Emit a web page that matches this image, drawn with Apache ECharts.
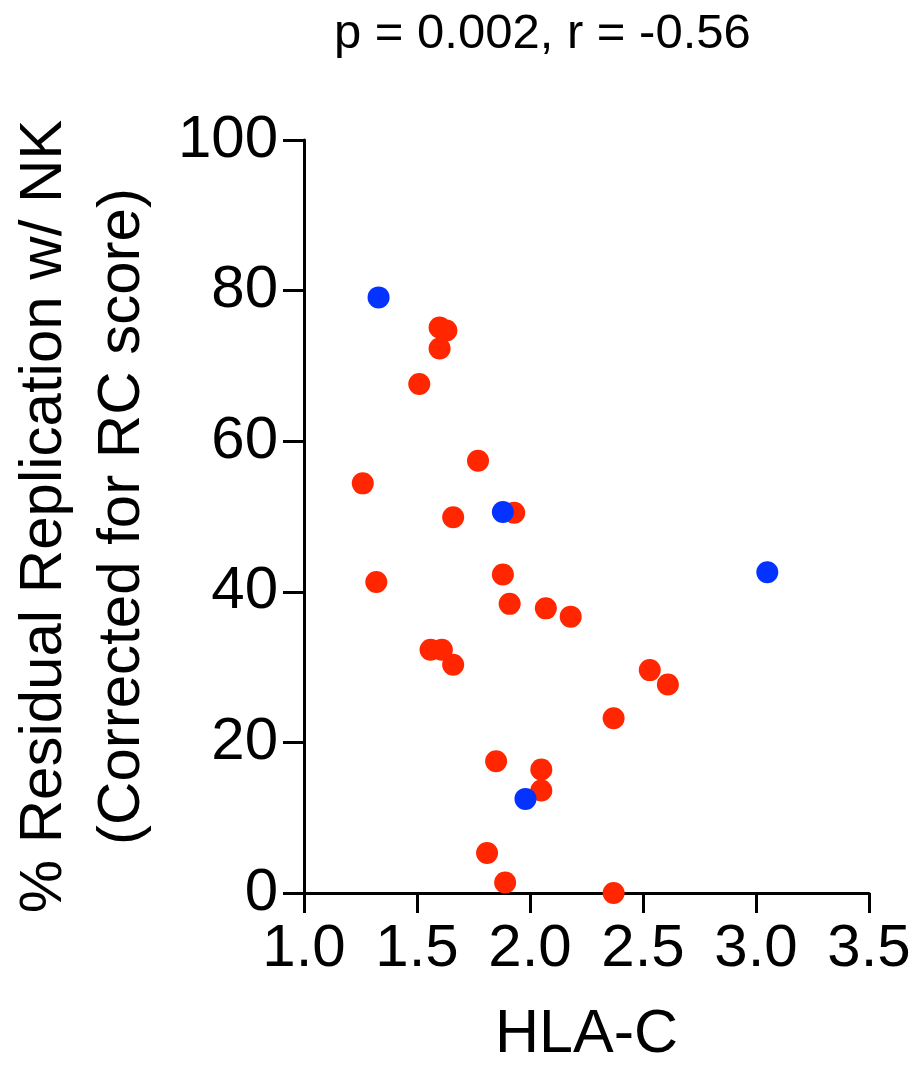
<!DOCTYPE html>
<html>
<head>
<meta charset="utf-8">
<script src="https://cdn.jsdelivr.net/npm/echarts@6/dist/echarts.min.js"></script>
<style>
  html, body { margin: 0; padding: 0; background: #fff; }
  #main { width: 916px; height: 1076px; }
</style>
</head>
<body>
<div id="main"></div>
<script>
// HLA-C expression vs residual replication
var redPoints = [
  [1.60, 75.1], [1.63, 74.7], [1.60, 72.3], [1.51, 67.6], [1.77, 57.4],
  [1.26, 54.4], [1.66, 49.9], [1.93, 50.5], [1.32, 41.3], [1.88, 42.3],
  [1.91, 38.4], [2.07, 37.8], [2.18, 36.7], [1.56, 32.3], [1.61, 32.3],
  [1.66, 30.3], [2.53, 29.6], [2.61, 27.7], [2.37, 23.2], [1.85, 17.5],
  [2.05, 16.4], [2.05, 13.6], [1.81, 5.3], [1.89, 1.4], [2.37, 0.0]
];
var bluePoints = [
  [1.33, 79.1], [1.88, 50.6], [1.98, 12.5], [3.05, 42.6]
];
var xTicks = [1.0, 1.5, 2.0, 2.5, 3.0, 3.5];
var yTicks = [0, 20, 40, 60, 80, 100];

var font = "'Liberation Sans', Arial, Helvetica, sans-serif";
var chart = echarts.init(document.getElementById('main'));

var option = {
  animation: false,
  backgroundColor: '#fff',
  title: {
    text: 'p = 0.002, r = -0.56',
    left: 329,
    top: 5,
    textStyle: {
      fontFamily: font,
      fontSize: 49,
      fontWeight: 'normal',
      color: '#000'
    }
  },
  grid: {
    left: 304,
    right: 47,
    top: 140,
    bottom: 183,
    containLabel: false,
    outerBoundsMode: 'none'
  },
  xAxis: {
    type: 'value',
    min: xTicks[0],
    max: xTicks[xTicks.length - 1],
    interval: 0.5,
    name: 'HLA-C',
    nameLocation: 'middle',
    nameGap: 112,
    nameTextStyle: {
      fontFamily: font,
      fontSize: 61,
      color: '#000'
    },
    axisLine: { show: true, lineStyle: { color: '#000', width: 3 } },
    axisTick: { show: true, length: 20, lineStyle: { color: '#000', width: 3 } },
    splitLine: { show: false },
    axisLabel: {
      margin: 26,
      fontFamily: font,
      fontSize: 60,
      color: '#000',
      formatter: function (v) { return v.toFixed(1); }
    }
  },
  yAxis: {
    type: 'value',
    min: yTicks[0],
    max: yTicks[yTicks.length - 1],
    interval: 20,
    name: '% Residual Replication w/ NK\n(Corrected for RC score)',
    nameLocation: 'middle',
    nameRotate: 90,
    nameGap: 143,
    nameTextStyle: {
      fontFamily: font,
      fontSize: 60,
      lineHeight: 78,
      color: '#000'
    },
    axisLine: { show: true, lineStyle: { color: '#000', width: 3 } },
    axisTick: { show: true, length: 21, lineStyle: { color: '#000', width: 3 } },
    splitLine: { show: false },
    axisLabel: {
      margin: 26,
      fontFamily: font,
      fontSize: 60,
      color: '#000'
    }
  },
  series: [{
    name: 'red',
    type: 'scatter',
    symbol: 'circle',
    symbolSize: 22,
    itemStyle: { color: '#FF2600', opacity: 1 },
    data: redPoints
  }, {
    name: 'blue',
    type: 'scatter',
    symbol: 'circle',
    symbolSize: 22,
    itemStyle: { color: '#0433FF', opacity: 1 },
    data: bluePoints
  }]
};

chart.setOption(option);
</script>
</body>
</html>
